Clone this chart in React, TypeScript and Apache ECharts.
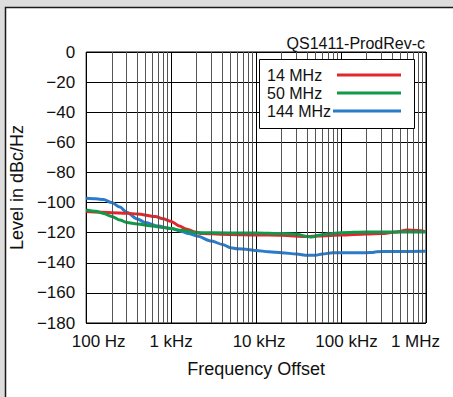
import React, { useEffect, useRef } from 'react';
import * as echarts from 'echarts';

// ---- data ----
const freq14 = [100, 200, 300, 400, 650, 800, 1000, 1250, 1500, 1900, 2300, 5000, 10000, 20000, 40000, 55000, 100000, 200000, 300000, 450000, 600000, 800000, 1000000];
const level14 = [-106, -106.7, -107.1, -107.6, -109.3, -110.8, -112.5, -115.6, -117.5, -119.5, -120.6, -121.2, -121.5, -121.7, -122.6, -122.2, -121.6, -120.9, -120.6, -119.5, -118.3, -118.5, -119.4];

const freq50 = [100, 130, 160, 200, 250, 300, 400, 600, 800, 1000, 1300, 2000, 5000, 10000, 20000, 30000, 40000, 45000, 55000, 70000, 100000, 200000, 1000000];
const level50 = [-104.9, -105.8, -107.2, -109.3, -111.6, -113.3, -114.2, -115.6, -116.6, -117.2, -118.4, -120, -120.2, -120.2, -120.6, -121, -122.6, -122.9, -121.7, -120.7, -120, -119.6, -119.6];

const freq144 = [100, 130, 160, 200, 250, 300, 400, 500, 700, 1000, 1300, 1600, 2000, 3000, 4000, 5000, 6000, 8000, 10000, 14000, 20000, 30000, 40000, 50000, 60000, 80000, 100000, 200000, 240000, 260000, 400000, 1000000];
const level144 = [-97.2, -97.5, -98, -100, -103, -106.5, -111, -113.3, -115.6, -117.3, -119, -120.5, -122.2, -125.6, -127.8, -130, -130.7, -131.1, -131.8, -132.7, -133.3, -134.2, -135, -135, -134.2, -133.3, -133.3, -133.3, -133.1, -132.6, -132.5, -132.3];

const seriesNames = ['14 MHz', '50 MHz', '144 MHz'];
const seriesColors = ['#e3262d', '#0e9a48', '#2b7bcb'];

const xTickValues = [100, 1000, 10000, 100000, 1000000];
const xTickLabels = ['100 Hz', '1 kHz', '10 kHz', '100 kHz', '1 MHz'];
const xLabelPad = [[0, 0, 0, 25], [0, 0, 0, 0], [0, 0, 0, 6], [0, 0, 0, 11], [0, 21, 0, 0]];

const chartTitle = 'QS1411-ProdRev-c';
const xName = 'Frequency Offset';
const yName = 'Level in dBc/Hz';

const minorMultipliers = [2, 3, 4, 5, 6, 7, 8, 9];
const decades = [100, 1000, 10000, 100000];

const FONT = '"Liberation Sans", Arial, Helvetica, sans-serif';

export default function App() {
  const ref = useRef<HTMLDivElement>(null);
  useEffect(() => {
    const chart = echarts.init(ref.current!, null, { renderer: 'svg' });

    const minorLines: number[] = [];
    decades.forEach((d) => minorMultipliers.forEach((m) => minorLines.push(d * m)));

    const pairs = (xs: number[], ys: number[]) => xs.map((x, i) => [x, ys[i]]);
    const dataSets = [pairs(freq14, level14), pairs(freq50, level50), pairs(freq144, level144)];

    const rich: Record<string, any> = {};
    xTickLabels.forEach((_, i) => {
      rich['l' + i] = { fontSize: 17, fontFamily: FONT, color: '#111', padding: xLabelPad[i] };
    });

    const drawOrder = [2, 0, 1];

    const legendX = 259.5, legendY = 59.5;
    const rowYs = [75, 93, 111];
    const lineStarts = [337, 337, 333];

    const option: any = {
      animation: false,
      backgroundColor: '#dddddd',
      textStyle: { fontFamily: FONT },
      grid: { left: 83, right: 27, top: 52, bottom: 74, show: true, borderColor: '#000', borderWidth: 1, backgroundColor: 'transparent' },
      xAxis: {
        type: 'log',
        logBase: 10,
        min: 100,
        max: 1000000,
        name: xName,
        nameLocation: 'middle',
        nameGap: 37,
        nameTextStyle: { fontSize: 18, color: '#111', fontFamily: FONT },
        axisLine: { show: false },
        axisTick: { show: false },
        splitLine: { show: true, lineStyle: { color: '#000', width: 1 } },
        axisLabel: {
          margin: 10,
          formatter: (v: number) => {
            const idx = xTickValues.findIndex((t) => Math.abs(Math.log10(t) - Math.log10(v)) < 1e-6);
            if (idx < 0) return '';
            return '{l' + idx + '|' + xTickLabels[idx] + '}';
          },
          rich,
        },
      },
      yAxis: {
        type: 'value',
        min: -180,
        max: 0,
        interval: 20,
        name: yName,
        nameLocation: 'middle',
        nameGap: 51,
        nameTextStyle: { fontSize: 18, color: '#111', fontFamily: FONT },
        axisLine: { show: false },
        axisTick: { show: false },
        splitLine: { show: true, lineStyle: { color: '#000', width: 1 } },
        axisLabel: {
          margin: 11,
          fontSize: 17,
          color: '#111',
          fontFamily: FONT,
          formatter: (v: number) => (v < 0 ? '\u2212' + Math.abs(v) : String(v)),
        },
      },
      series: [
        {
          type: 'line',
          name: 'minor-grid',
          data: [],
          z: 1,
          silent: true,
          markLine: {
            silent: true,
            symbol: 'none',
            label: { show: false },
            lineStyle: { color: '#555', type: 'solid', width: 1 },
            data: minorLines.map((f) => ({ xAxis: f })),
          },
        },
        ...drawOrder.map((i) => ({
          type: 'line',
          name: seriesNames[i],
          data: dataSets[i],
          showSymbol: false,
          smooth: 0.3,
          smoothMonotone: 'x',
          z: 3,
          lineStyle: { color: seriesColors[i], width: 3 },
          itemStyle: { color: seriesColors[i] },
        })),
      ],
      graphic: [
        {
          type: 'rect',
          z: -100,
          silent: true,
          shape: { x: 5.5, y: 7.5, width: 470, height: 410 },
          style: { fill: '#fff', stroke: '#1a1a1a', lineWidth: 1.5 },
        },
        {
          type: 'text',
          z: 100,
          x: 425,
          y: 43,
          style: { text: chartTitle, fontSize: 16, fontFamily: FONT, fill: '#111', align: 'right', verticalAlign: 'middle' },
        },
        {
          type: 'rect',
          z: 100,
          shape: { x: legendX, y: legendY, width: 155, height: 69 },
          style: { fill: '#fff', stroke: '#000', lineWidth: 1 },
        },
        ...seriesNames.map((n, i) => ({
          type: 'text',
          z: 101,
          x: 267,
          y: rowYs[i],
          style: { text: n, fontSize: 16, fontFamily: FONT, fill: '#111', align: 'left', verticalAlign: 'middle' },
        })),
        ...seriesNames.map((n, i) => ({
          type: 'line',
          z: 101,
          shape: { x1: lineStarts[i], y1: rowYs[i], x2: 401, y2: rowYs[i] },
          style: { stroke: seriesColors[i], lineWidth: 3 },
        })),
      ],
    };

    chart.setOption(option);
    return () => chart.dispose();
  }, []);
  return <div ref={ref} style={{ position: 'fixed', left: 0, top: 0, width: 453, height: 397 }} />;
}
